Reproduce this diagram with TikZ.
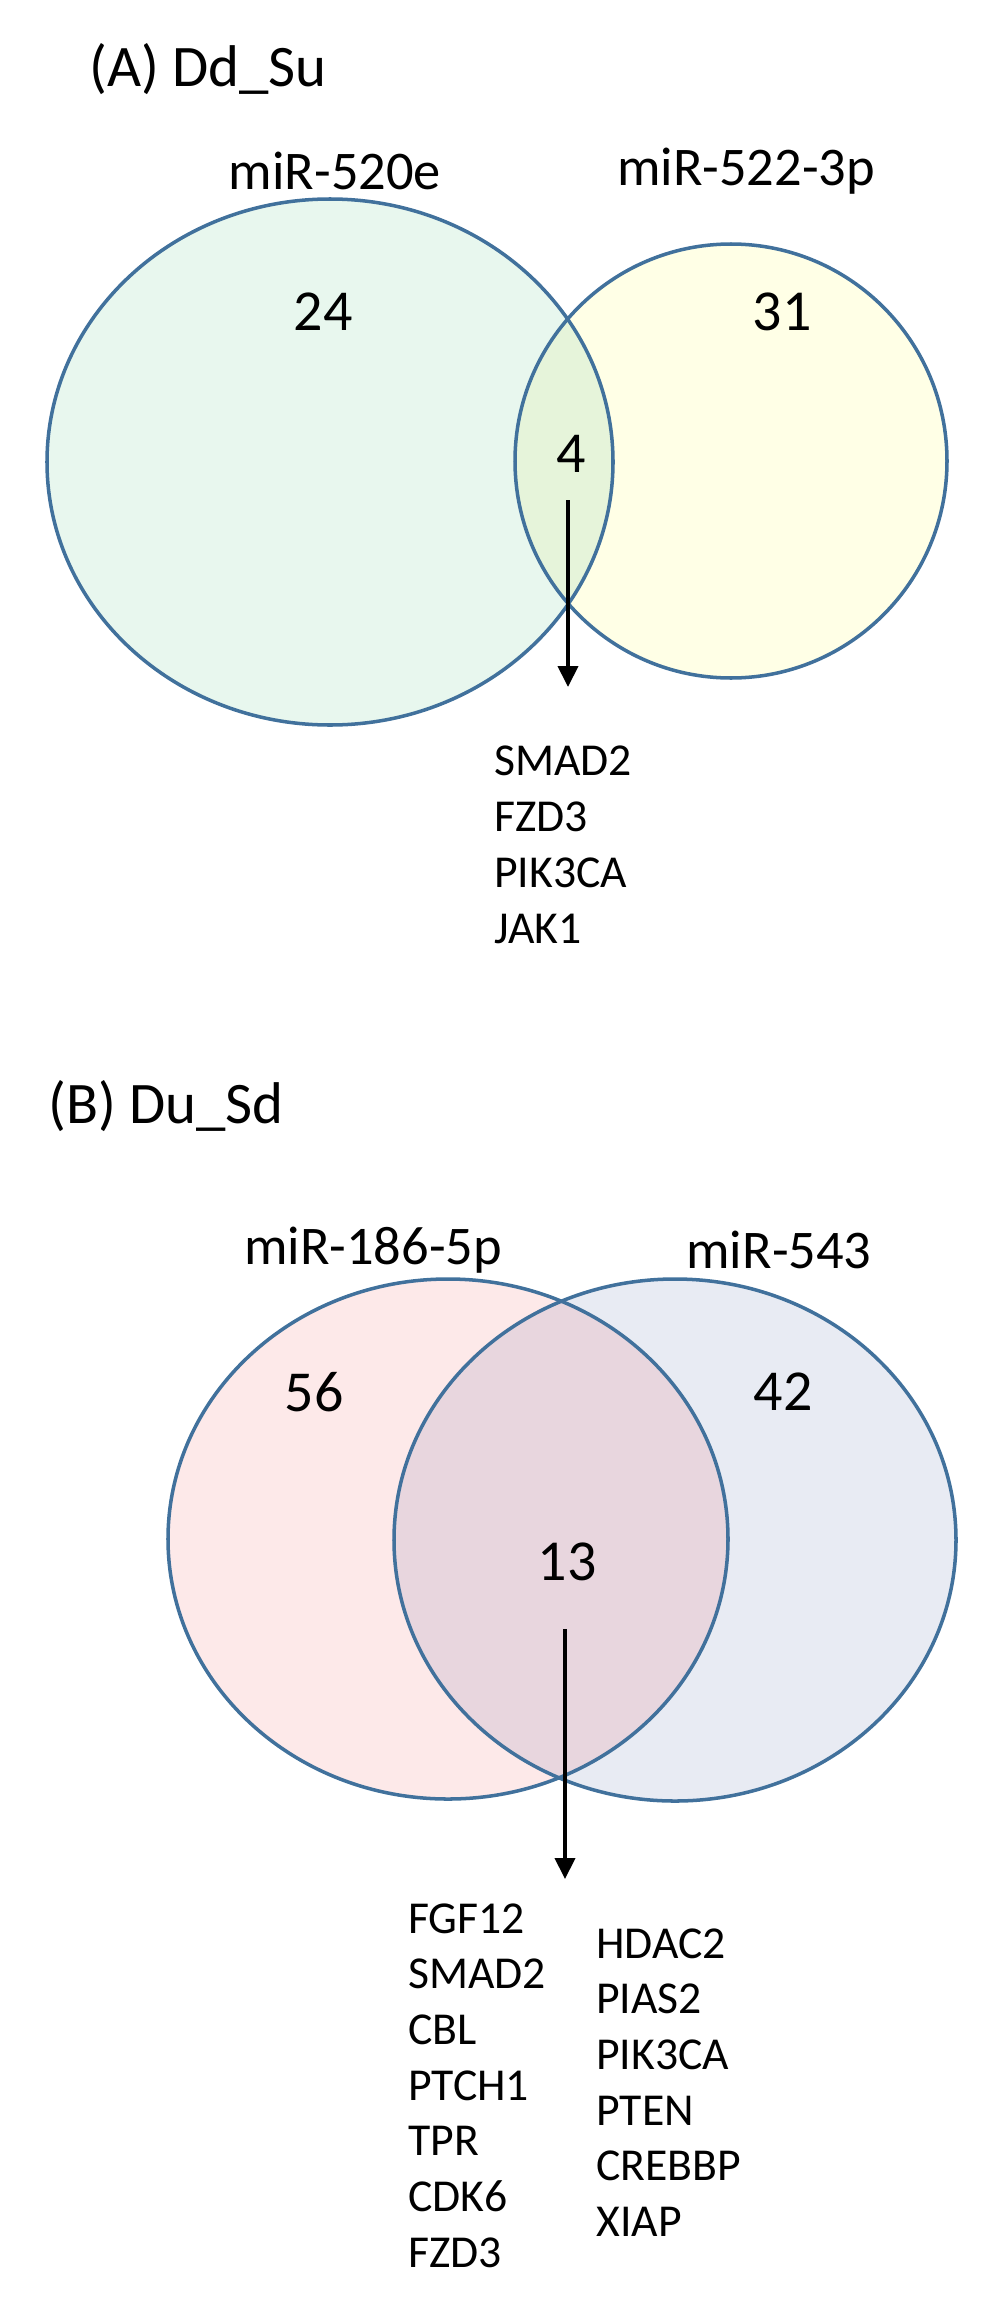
\documentclass[tikz,border=0pt]{standalone}
\usepackage{fontspec}
\setmainfont{Carlito}
\usetikzlibrary{arrows.meta}

\definecolor{vennline}{HTML}{41719C}
\definecolor{mintfill}{HTML}{E8F7EE}
\definecolor{creamfill}{HTML}{FFFFE6}
\definecolor{limefill}{HTML}{E6F4DA}
\definecolor{rosefill}{HTML}{FDE9E9}
\definecolor{steelfill}{HTML}{E8EBF3}
\definecolor{mauvefill}{HTML}{E8D6DE}

\tikzset{
  paneltitle/.style={anchor=base west,inner sep=0,font=\fontsize{33.5}{38}\selectfont},
  mirlabel/.style={inner sep=0,font=\fontsize{31}{36}\selectfont},
  count/.style={inner sep=0,font=\fontsize{33}{38}\selectfont},
  gene/.style={anchor=base west,inner sep=0,font=\fontsize{26}{30}\selectfont},
  vennedge/.style={draw=vennline,line width=2pt},
  arr/.style={line width=2.3pt,-{Triangle[length=4.2mm,width=4mm]}}
}

\begin{document}
\begin{tikzpicture}[x=0.02cm,y=-0.02cm]
  \useasboundingbox (0,0) rectangle (1000,2305);

  % (A) two sets, small overlap
  \node[paneltitle] (titleA) at (89,87) {(A) Dd\_Su};

  \fill[mintfill] (330,462) ellipse [x radius=283,y radius=263];
  \fill[creamfill] (731,461) ellipse [x radius=216,y radius=217];
  \begin{scope}
    \clip (330,462) ellipse [x radius=283,y radius=263];
    \fill[limefill] (731,461) ellipse [x radius=216,y radius=217];
  \end{scope}
  \draw[vennedge] (330,462) ellipse [x radius=283,y radius=263];
  \draw[vennedge] (731,461) ellipse [x radius=216,y radius=217];

  \node[mirlabel] (labA1) at (335,171) {miR-520e};
  \node[mirlabel] (labA2) at (746,171) {miR-522-3p};
  \node[count] (numA1) at (323,312) {24};
  \node[count] (numA2) at (782,312) {31};
  \node[count] (numA3) at (571,454) {4};

  \coordinate (arrA) at (568,500);
  \coordinate (tipA) at (568,687);
  \draw[arr] (arrA) -- (tipA);

  \foreach \g [count=\i] in {SMAD2,FZD3,PIK3CA,JAK1}
    \node[gene] (geneA\i) at (494,{775+56*(\i-1)}) {\g};

  % (B) two sets, large overlap
  \node[paneltitle] (titleB) at (48,1123) {(B) Du\_Sd};

  \fill[rosefill] (448,1539) ellipse [x radius=280,y radius=260];
  \fill[steelfill] (675,1540) ellipse [x radius=281,y radius=261];
  \begin{scope}
    \clip (448,1539) ellipse [x radius=280,y radius=260];
    \fill[mauvefill] (675,1540) ellipse [x radius=281,y radius=261];
  \end{scope}
  \draw[vennedge] (448,1539) ellipse [x radius=280,y radius=260];
  \draw[vennedge] (675,1540) ellipse [x radius=281,y radius=261];

  \node[mirlabel] (labB1) at (373,1250) {miR-186-5p};
  \node[mirlabel] (labB2) at (779,1250) {miR-543};
  \node[count] (numB1) at (314,1392) {56};
  \node[count] (numB2) at (783,1392) {42};
  \node[count] (numB3) at (567,1562) {13};

  \coordinate (arrB) at (565,1629);
  \coordinate (tipB) at (565,1879);
  \draw[arr] (arrB) -- (tipB);

  \foreach \g [count=\i] in {FGF12,SMAD2,CBL,PTCH1,TPR,CDK6,FZD3}
    \node[gene] (geneB\i) at (408,{1933+55.7*(\i-1)}) {\g};
  \foreach \g [count=\i] in {HDAC2,PIAS2,PIK3CA,PTEN,CREBBP,XIAP}
    \node[gene] (geneC\i) at (596,{1958+55.7*(\i-1)}) {\g};
\end{tikzpicture}
\end{document}
